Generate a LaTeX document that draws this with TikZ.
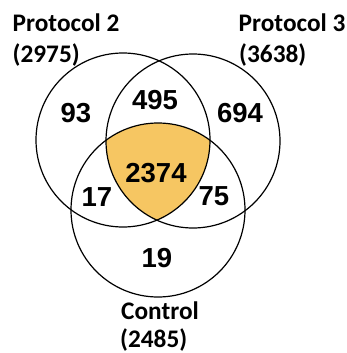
\documentclass[tikz,border=0pt]{standalone}
\usepackage{fontspec}
\setmainfont{Carlito}
\newfontfamily\numfont{Liberation Sans}
\definecolor{gold}{RGB}{246,198,98}
\begin{document}
\begin{tikzpicture}[x=1pt,y=-1pt,
  setcircle/.style={circle,draw=black,line width=1.2pt,minimum size=174pt,inner sep=0pt},
  num/.style={inner sep=0pt,font=\numfont\fontsize{27.5}{30}\selectfont\bfseries},
  lab/.style={inner sep=0pt,anchor=base west,font=\fontsize{25.3}{30}\selectfont\bfseries}]
\useasboundingbox (0,0) rectangle (347,353);
\begin{scope}
  \clip (123,140) circle (87);
  \clip (193,141) circle (87);
  \fill[gold] (158,210) circle (87);
\end{scope}
\node[setcircle] (p2) at (123,140) {};
\node[setcircle] (p3) at (193,141) {};
\node[setcircle] (ctl) at (158,210) {};
\node[num] (n93) at (76,113) {93};
\node[num] (n495) at (155,100) {495};
\node[num] (n694) at (240,113) {694};
\node[num] (n2374) at (156,173) {2374};
\node[num] (n17) at (97,197) {17};
\node[num] (n75) at (214,196) {75};
\node[num] (n19) at (157,258) {19};
\node[lab] (l2a) at (12.5,31.7) {Protocol 2};
\node[lab] (l2b) at (12.5,63) {(2975)};
\node[lab] (l3a) at (238.5,31.7) {Protocol 3};
\node[lab] (l3b) at (239,63) {(3638)};
\node[lab] (lca) at (121,319) {Control};
\node[lab] (lcb) at (120,347) {(2485)};
\end{tikzpicture}
\end{document}
